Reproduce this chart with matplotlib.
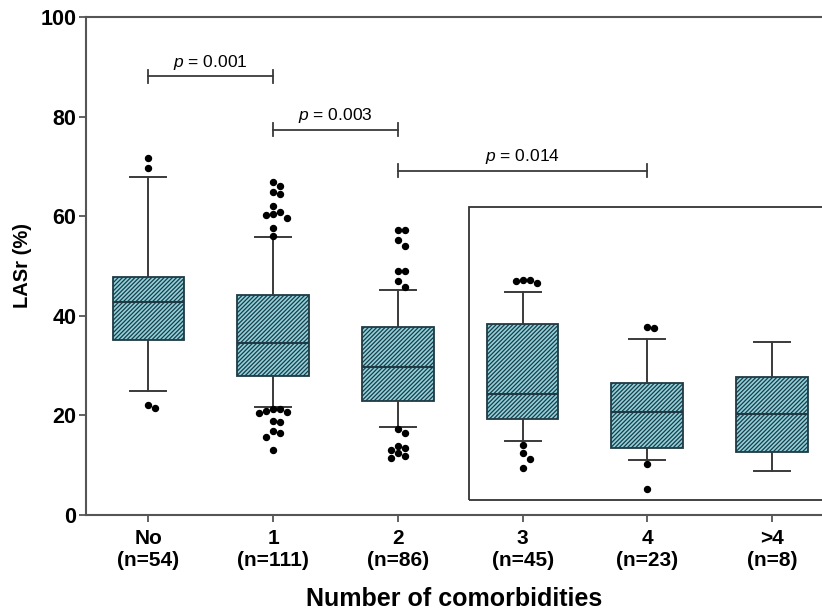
import numpy as np
import matplotlib
matplotlib.use('Agg')
from matplotlib import pyplot as plt
from matplotlib.patches import Rectangle

plt.rcParams['font.family'] = ['Liberation Sans', 'DejaVu Sans']
plt.rcParams['mathtext.fontset'] = 'custom'
plt.rcParams['mathtext.it'] = 'Liberation Sans:italic'
plt.rcParams['mathtext.rm'] = 'Liberation Sans'
plt.rcParams['hatch.color'] = '#2a6674'
plt.rcParams['hatch.linewidth'] = 0.9

# data
groups = ['No\n(n=54)', '1\n(n=111)', '2\n(n=86)', '3\n(n=45)', '4\n(n=23)', '>4\n(n=8)']
q1 = [35.1, 28.0, 22.9, 19.3, 13.5, 12.6]
med = [42.7, 34.6, 29.7, 24.3, 20.6, 20.2]
q3 = [47.8, 44.2, 37.8, 38.4, 26.5, 27.8]
whislo = [25.0, 21.6, 17.6, 14.9, 11.0, 8.9]
whishi = [67.9, 55.8, 45.2, 44.8, 35.3, 34.7]
fliers = [
    [71.7, 69.6, 22.0, 21.4],
    [66.8, 66.1, 64.9, 64.4, 62.1, 60.9, 60.4, 60.2, 59.7, 57.6, 56.0,
     21.2, 21.2, 20.9, 20.7, 20.4, 18.9, 18.7, 16.9, 16.4, 15.7, 13.0],
    [57.2, 57.2, 55.2, 54.0, 48.9, 48.9, 46.9, 45.7,
     17.2, 16.4, 13.9, 13.5, 13.1, 12.4, 11.9, 11.4],
    [47.2, 47.2, 47.0, 46.6, 14.1, 12.5, 11.3, 9.4],
    [37.8, 37.5, 10.2, 5.2],
    [],
]
comparisons = [(0, 1, 88.1, 'p = 0.001'), (1, 2, 77.4, 'p = 0.003'), (2, 4, 69.1, 'p = 0.014')]

fig = plt.figure(figsize=(8.22, 6.15), dpi=100)
ax = fig.add_axes([86/822, 100/615, 736/822, 498/615])

pos = np.arange(len(groups))
stats = []
for i in range(len(groups)):
    stats.append(dict(med=med[i], q1=q1[i], q3=q3[i], whislo=whislo[i], whishi=whishi[i], fliers=[]))

bp = ax.bxp(stats, positions=pos, widths=0.575, patch_artist=True, showfliers=False,
            boxprops=dict(facecolor='#8dd3dd', edgecolor='#1f3a44', linewidth=1.3, hatch='////////'),
            medianprops=dict(color='#1f3a44', linewidth=1.5),
            whiskerprops=dict(color='#3a3a3a', linewidth=1.4),
            capprops=dict(color='#3a3a3a', linewidth=1.4), capwidths=0.29)

# simple swarm placement of outliers
ppx = 124.7  # px per x unit
ppy = 4.98   # px per y unit
dot = 7.0
for i, vals in enumerate(fliers):
    placed = []
    for v in vals:
        k = 0
        cands = [0]
        for s in range(1, 6):
            cands += [s, -s]
        for c in cands:
            ok = True
            for (px, py) in placed:
                if ((c*dot - px)**2 + ((v - py)*ppy)**2) < (dot*0.95)**2:
                    ok = False
                    break
            if ok:
                k = c
                break
        placed.append((k*dot, v))
    if placed:
        xs = [i + p[0]/ppx for p in placed]
        ys = [p[1] for p in placed]
        ax.plot(xs, ys, 'o', color='black', markersize=4.3, linestyle='none')

# significance brackets
for a, b, y, txt in comparisons:
    ax.plot([a, b], [y, y], color='#3a3a3a', lw=1.3)
    ax.plot([a, a], [y-1.3, y+1.3], color='#3a3a3a', lw=1.3)
    ax.plot([b, b], [y-1.3, y+1.3], color='#3a3a3a', lw=1.3)
    ax.text((a+b)/2, y+0.9, r'$\it{p}$' + txt[1:], ha='center', va='bottom',
            fontsize=12.5, family='Liberation Sans')

ax.add_patch(Rectangle((2.57, 3.0), 4.0, 58.8, fill=False, edgecolor='#333333', lw=1.3))

ax.set_xlim(-0.5, 5.40)
ax.set_ylim(0, 100)
ax.set_yticks([0, 20, 40, 60, 80, 100])
ax.set_xticks(pos)
ax.set_xticklabels(groups, fontsize=15, fontweight='bold')
for t in ax.get_yticklabels():
    t.set_fontsize(15.5)
    t.set_fontweight('bold')
ax.spines['right'].set_visible(False)
for s in ['left', 'bottom', 'top']:
    ax.spines[s].set_linewidth(1.5)
    ax.spines[s].set_color('#555555')
ax.tick_params(direction='out', length=5, width=1.3, color='#555555')
ax.tick_params(axis='x', pad=5)
ax.tick_params(axis='y', pad=2)
ax.set_ylabel('LASr (%)', fontsize=14.5, fontweight='bold', labelpad=6)
ax.set_xlabel('Number of comorbidities', fontsize=18, fontweight='bold', labelpad=12)

plt.savefig('out.png', dpi=100)
plt.close()
